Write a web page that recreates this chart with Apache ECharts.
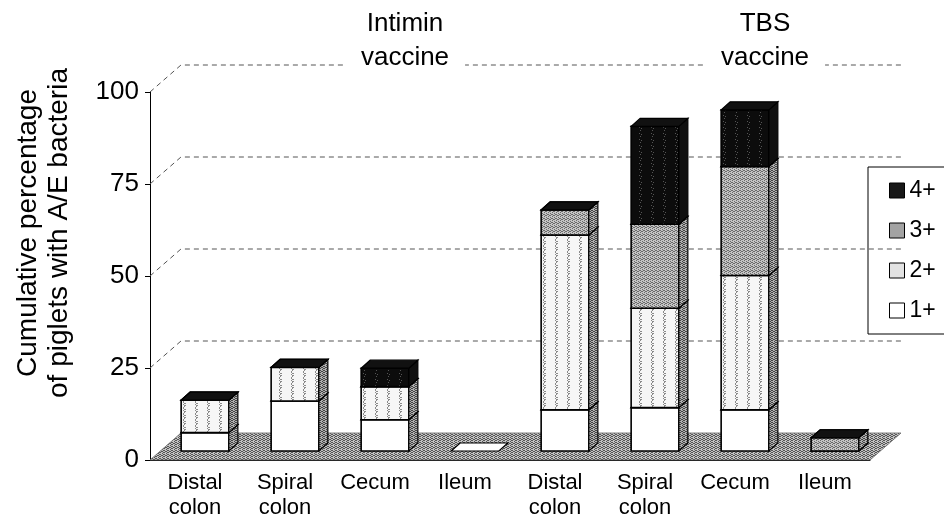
<!DOCTYPE html>
<html>
<head>
<meta charset="utf-8">
<script src="https://cdn.jsdelivr.net/npm/echarts@6/dist/echarts.min.js"></script>
<style>
  html, body { margin: 0; padding: 0; background: #fff; }
  #chart { width: 944px; height: 520px; }
</style>
</head>
<body>
<div id="chart"></div>
<script>
const categories = ['Distal\ncolon', 'Spiral\ncolon', 'Cecum', 'Ileum', 'Distal\ncolon', 'Spiral\ncolon', 'Cecum', 'Ileum'];
const groupLabels = ['Intimin\nvaccine', 'TBS\nvaccine'];
const yTicks = [25, 50, 75, 100];
// height of each grade's slice in the stack (cumulative %)
const grade1 = [5.0, 13.6, 8.5, 0, 11.2, 11.8, 11.2, 0];
const grade2 = [8.8, 9.1, 9.0, 0, 47.5, 27.0, 36.5, 0];
const grade3 = [0, 0, 0, 0, 6.8, 22.8, 29.6, 3.6];
const grade4 = [0, 0, 5.0, 0, 0, 26.6, 15.4, 0];
const gradeNames = ['1+', '2+', '3+', '4+'];

// fake 3D: floor depth, bar offset into the floor, bar depth
const FX = 31, FY = -27;
const OX = 10, OY = -9;
const DX = 9, DY = -8;

// small repeating tiles to mimic the printed halftone textures
function tile(w, h, base, ink, marks) {
  const c = document.createElement('canvas');
  c.width = w; c.height = h;
  const g = c.getContext('2d');
  g.fillStyle = base; g.fillRect(0, 0, w, h);
  g.fillStyle = ink;
  marks.forEach(m => g.fillRect(m[0], m[1], 1, 1));
  return { image: c, repeat: 'repeat' };
}
const stripeMarks = [[3,0],[4,1],[3,2],[5,3],[4,4],[3,5],[5,1],[4,3]];
const speckMarks = [[0,0],[2,1],[1,3],[3,2],[0,2],[2,3],[3,0],[1,1]];
const pat2 = tile(12, 6, '#f6f6f6', '#8a8a8a', stripeMarks);
const pat3 = tile(4, 4, '#c4c4c4', '#6a6a6a', speckMarks.slice(0, 6));
const pat4 = tile(12, 6, '#0c0c0c', '#555', [[3,1],[4,4],[5,2]]);
const patSide = tile(4, 4, '#b0b0b0', '#444', speckMarks.slice(0, 7));
const patFloor = tile(4, 4, '#c2c2c2', '#555', speckMarks.slice(0, 7));

const faces = [
  { front: '#ffffff', fill: '#ffffff', side: patSide, top: '#ffffff' },
  { front: '#e2e2e2', fill: pat2, side: patSide, top: '#d0d0d0' },
  { front: '#a3a3a3', fill: pat3, side: patSide, top: '#9a9a9a' },
  { front: '#181818', fill: pat4, side: '#101010', top: '#111111' }
];

const grades = [grade1, grade2, grade3, grade4];
const totals = categories.map((c, i) => grades.reduce((s, g) => s + g[i], 0));

function boxRenderer(s) {
  const f = faces[s];
  return function (params, api) {
    const i = api.value(0), base = api.value(1), v = api.value(2), total = api.value(3);
    if (total === 0 && s !== 0) return;
    const band = api.size([1, 0])[0];
    const w = band * 0.53;
    const c0 = api.coord([i, base]);
    const c1 = api.coord([i, base + v]);
    const x0 = c0[0] + OX - w / 2, x1 = x0 + w;
    const yb = c0[1] + OY, yt = c1[1] + OY;
    const children = [];
    if (v > 0) {
      children.push({ type: 'rect', shape: { x: x0, y: yt, width: w, height: yb - yt },
        style: { fill: f.fill, stroke: '#000', lineWidth: 1.6 } });
      children.push({ type: 'polygon', shape: { points: [[x1, yb], [x1, yt], [x1 + DX, yt + DY], [x1 + DX, yb + DY]] },
        style: { fill: f.side, stroke: '#000', lineWidth: 1.2 } });
    }
    children.push({ type: 'polygon', shape: { points: [[x0, yt], [x1, yt], [x1 + DX, yt + DY], [x0 + DX, yt + DY]] },
      style: { fill: f.top, stroke: '#000', lineWidth: 1.2 } });
    return { type: 'group', children: children };
  };
}

const barSeries = grades.map((g, s) => {
  let data = categories.map((c, i) => {
    let base = 0;
    for (let k = 0; k < s; k++) base += grades[k][i];
    return [i, base, g[i], totals[i]];
  });
  return {
    name: gradeNames[s],
    type: 'custom',
    z: 5 + s,
    itemStyle: { color: faces[s].front, borderColor: '#000', borderWidth: 1 },
    encode: { x: 0, y: 2 },
    renderItem: boxRenderer(s),
    data: data
  };
});

const chart = echarts.init(document.getElementById('chart'));
const option = {
  animation: false,
  backgroundColor: '#fff',
  textStyle: { fontFamily: 'Liberation Sans, Arial, sans-serif', color: '#000' },
  grid: { left: 150, right: 74, top: 92, bottom: 60, outerBoundsMode: 'none' },
  legend: {
    orient: 'vertical',
    left: 868, top: 167,
    data: ['4+', '3+', '2+', '1+'],
    icon: 'rect',
    itemWidth: 15, itemHeight: 15,
    itemGap: 17,
    padding: [12, 40, 12, 21],
    borderColor: '#000', borderWidth: 1,
    itemStyle: { borderColor: '#000', borderWidth: 1 },
    textStyle: { fontSize: 23, lineHeight: 23, color: '#000', fontFamily: 'Liberation Sans, Arial, sans-serif' }
  },
  xAxis: {
    type: 'category',
    data: categories,
    axisLine: { lineStyle: { color: '#000', width: 1 } },
    axisTick: { length: 6, lineStyle: { color: '#000' } },
    axisLabel: { fontSize: 22, lineHeight: 25, margin: 10, color: '#000', interval: 0 },
    splitLine: { show: false }
  },
  yAxis: {
    type: 'value',
    min: 0, max: 100, interval: 25,
    axisLine: { show: true, lineStyle: { color: '#000', width: 1 } },
    axisTick: { show: true, length: 5, lineStyle: { color: '#000' } },
    axisLabel: { fontSize: 26, margin: 11, color: '#000' },
    splitLine: { show: false }
  },
  graphic: [
    {
      type: 'text', rotation: Math.PI / 2,
      x: 44, y: 233,
      style: {
        text: 'Cumulative percentage\nof piglets with A/E bacteria',
        fontSize: 28, lineHeight: 31, fill: '#000',
        fontFamily: 'Liberation Sans, Arial, sans-serif',
        align: 'center', verticalAlign: 'middle'
      }
    }
  ],
  series: [
    {
      type: 'custom', name: 'wall', z: 1, silent: true,
      encode: { x: 0, y: 1 },
      data: yTicks.map(v => [0, v]),
      renderItem: function (params, api) {
        const cs = params.coordSys;
        const y = api.coord([0, api.value(1)])[1];
        return {
          type: 'polyline',
          shape: { points: [[cs.x, y], [cs.x + FX, y + FY], [cs.x + cs.width + FX, y + FY]] },
          style: { stroke: '#555', lineWidth: 1, lineDash: [5, 4], fill: null }
        };
      }
    },
    {
      type: 'custom', name: 'floor', z: 2, silent: true,
      encode: { x: 0, y: 1 },
      data: [[0, 0]],
      renderItem: function (params, api) {
        const band = api.size([1, 0])[0];
        const l = api.coord([0, 0]);
        const r = api.coord([categories.length - 1, 0]);
        const xl = l[0] - band / 2, xr = r[0] + band / 2, y = l[1];
        return {
          type: 'polygon',
          shape: { points: [[xl, y], [xr, y], [xr + FX, y + FY], [xl + FX, y + FY]] },
          style: { fill: patFloor, stroke: '#666', lineWidth: 0.8 }
        };
      }
    },
    {
      type: 'custom', name: 'groups', z: 3, silent: true,
      encode: { x: 0, y: 1 },
      data: groupLabels.map((g, k) => [k * 4 + 1.5, 100]),
      renderItem: function (params, api) {
        const p = api.coord([api.value(0), api.value(1)]);
        return {
          type: 'text',
          x: p[0] + FX - 1, y: p[1] + FY - 24,
          style: {
            text: groupLabels[params.dataIndex],
            fontSize: 26, lineHeight: 34, fill: '#000',
            fontFamily: 'Liberation Sans, Arial, sans-serif',
            align: 'center', verticalAlign: 'middle',
            backgroundColor: '#fff', padding: [0, 16]
          }
        };
      }
    }
  ].concat(barSeries)
};
chart.setOption(option);
</script>
</body>
</html>
